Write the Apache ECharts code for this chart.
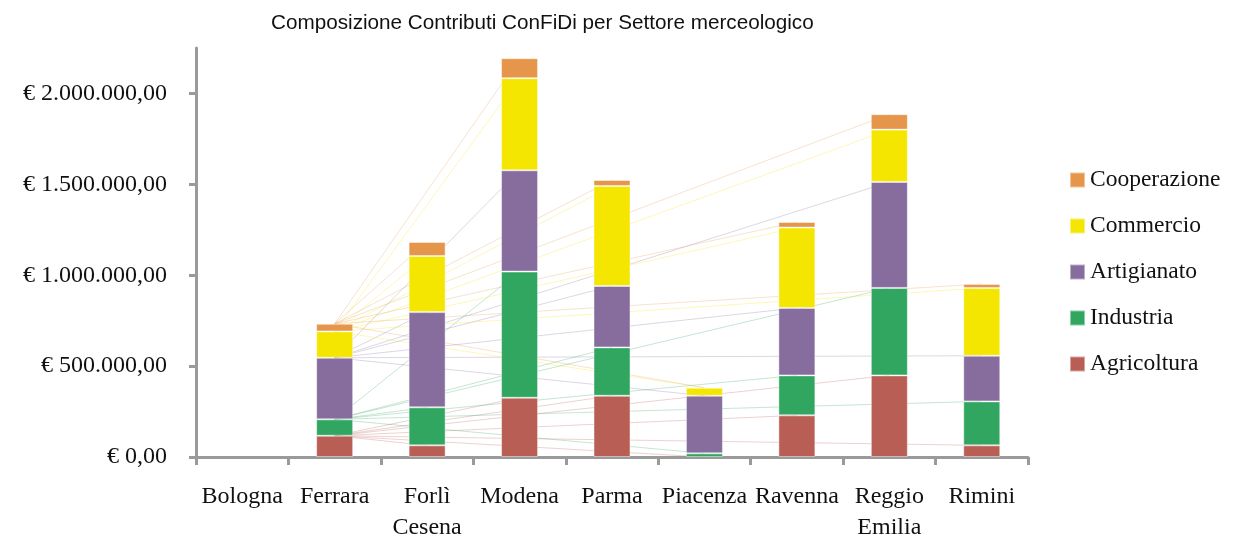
<!DOCTYPE html>
<html>
<head>
<meta charset="utf-8">
<script src="https://cdn.jsdelivr.net/npm/echarts@6/dist/echarts.min.js"></script>
<style>html,body{margin:0;padding:0;background:#fff}#c{width:1233px;height:538px}</style>
</head>
<body>
<div id="c"></div>
<script>
const categories = ['Bologna','Ferrara','Forlì\nCesena','Modena','Parma','Piacenza','Ravenna','Reggio\nEmilia','Rimini'];
const agricoltura  = [0, 117000,  64000, 326000, 337000,      0, 229000, 449000,  64000];
const industria    = [0,  90000, 209000, 694000, 266000,  20000, 220000, 481000, 242000];
const artigianato  = [0, 339000, 524000, 557000, 338000, 317000, 371000, 583000, 251000];
const commercio    = [0, 145000, 309000, 507000, 550000,  44000, 442000, 288000, 373000];
const cooperazione = [0,  42000,  77000, 110000,  33000,      0,  31000,  85000,  22000];
const seriesNames = ['Agricoltura','Industria','Artigianato','Commercio','Cooperazione'];
const seriesData = [agricoltura, industria, artigianato, commercio, cooperazione];
const colors = ['#B95E55','#30A660','#866D9E','#F4E600','#E5964A'];
const yTicks = {min: 0, max: 2250000, interval: 500000};

function fmt(v){
  const s = Math.round(v).toString().replace(/\B(?=(\d{3})+(?!\d))/g, '.');
  return '€ ' + s + ',00';
}

const serif = '"Liberation Serif", "Times New Roman", serif';
const series = [];
seriesData.forEach((d, i) => {
  series.push({
    name: seriesNames[i], type: 'bar', stack: 'total', barWidth: 37, z: 3,
    data: d.map(v => v === 0 ? null : v),
    itemStyle: {color: colors[i], borderColor: 'rgba(255,255,255,0.45)', borderWidth: 1}
  });
});
// faint connector lines from Ferrara to each other city, per series (cumulative heights)
const cum = [];
seriesData.forEach((d, i) => {
  cum.push(d.map((v, k) => v + (i > 0 ? cum[i-1][k] : 0)));
});
cum.forEach((c, i) => {
  for (let k = 2; k < categories.length; k++) {
    const arr = categories.map(() => null);
    arr[1] = c[1]; arr[k] = c[k];
    series.push({
      type: 'line', data: arr, connectNulls: true, symbol: 'none', silent: true, z: 1,
      lineStyle: {color: colors[i], width: 1, opacity: 0.28}, tooltip: {show: false}
    });
  }
});

const chart = echarts.init(document.getElementById('c'), null, {renderer: 'canvas'});
chart.setOption({
  animation: false,
  backgroundColor: '#fff',
  title: {
    text: 'Composizione Contributi ConFiDi per Settore merceologico',
    left: 266, top: 8,
    textStyle: {fontFamily: '"Liberation Sans Narrow", "Liberation Sans", Arial, sans-serif', fontSize: 20.7, fontWeight: 'normal', color: '#111'}
  },
  legend: {
    data: ['Cooperazione','Commercio','Artigianato','Industria','Agricoltura'],
    orient: 'vertical', left: 1069, top: 168, padding: 0,
    itemWidth: 15, itemHeight: 15, itemGap: 22, icon: 'rect',
    textStyle: {fontFamily: serif, fontSize: 23.5, color: '#111'}
  },
  grid: {left: 196, right: 205, top: 48, bottom: 81, outerBoundsMode: 'none'},
  xAxis: {
    type: 'category', data: categories,
    axisLine: {lineStyle: {color: '#9a9a9a', width: 3}},
    axisTick: {show: true, alignWithLabel: false, length: 8, lineStyle: {color: '#9a9a9a', width: 3}},
    axisLabel: {interval: 0, fontFamily: serif, fontSize: 24, color: '#111', margin: 24, lineHeight: 31}
  },
  yAxis: {
    type: 'value', min: yTicks.min, max: yTicks.max, interval: yTicks.interval,
    splitLine: {show: false},
    axisLine: {show: true, lineStyle: {color: '#9a9a9a', width: 3}},
    axisTick: {show: true, length: 7, lineStyle: {color: '#9a9a9a', width: 3}},
    axisLabel: {formatter: fmt, fontFamily: serif, fontSize: 24, color: '#111', margin: 29, showMaxLabel: false}
  },
  series: series
});
</script>
</body>
</html>
